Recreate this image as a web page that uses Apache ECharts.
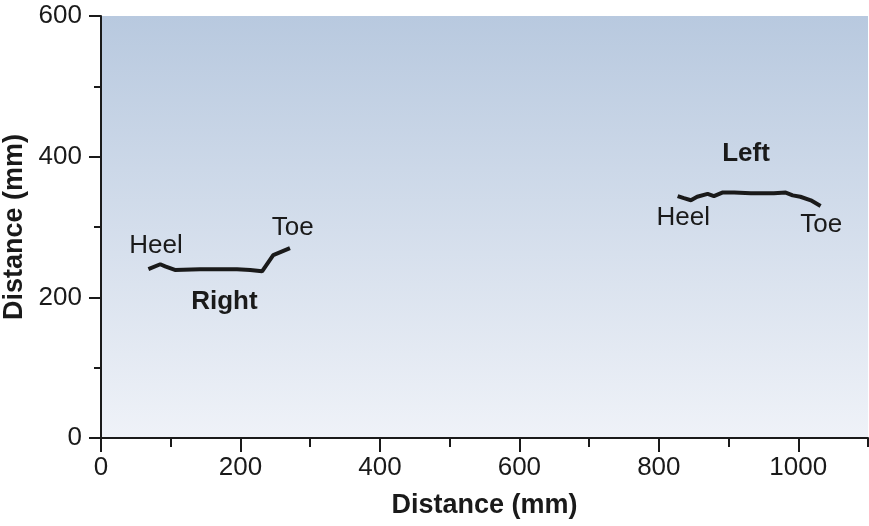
<!DOCTYPE html>
<html>
<head>
<meta charset="utf-8">
<script src="https://cdn.jsdelivr.net/npm/echarts@6/dist/echarts.min.js"></script>
<style>
html, body { margin: 0; padding: 0; background: #fff; }
#main { width: 869px; height: 526px; }
</style>
</head>
<body>
<div id="main"></div>
<script>
// right foot trace [x, y] in mm
var rightFoot = [
  [68, 240], [85, 247], [92, 244], [106, 239], [142, 240], [195, 240],
  [214, 239], [231, 237], [247, 260], [271, 270]
]
// left foot trace
var leftFoot = [
  [827, 344], [836, 341], [846, 338], [855, 343], [870, 347], [879, 344],
  [891, 349], [908, 349], [932, 348], [965, 348], [982, 349], [992, 345],
  [1003, 343], [1018, 338], [1032, 330]
]
// text notes [x, y, text, bold]
var notes = [
  [79, 273, 'Heel', false],
  [275, 299, 'Toe', false],
  [177, 194, 'Right', true],
  [925, 404, 'Left', true],
  [835, 313, 'Heel', false],
  [1033, 303, 'Toe', false]
]
var xMajor = [0, 200, 400, 600, 800, 1000]
var xMinor = [100, 300, 500, 700, 900, 1100]
var yMajor = [0, 200, 400, 600]
var yMinor = [100, 300, 500]

var font = "'Liberation Sans', Arial, sans-serif"
var ink = '#1a1a1a'

var chart = echarts.init(document.getElementById('main'))

function axisBase (vals, len, showLine, showLabel, pos) {
  return {
    type: 'value',
    position: pos,
    min: 0,
    axisLine: { show: showLine, onZero: false, lineStyle: { color: ink, width: 2 } },
    axisTick: { show: true, customValues: vals, length: len, lineStyle: { color: ink, width: 2 } },
    axisLabel: {
      show: showLabel, customValues: vals, color: ink, fontFamily: font, fontSize: 26,
      formatter: function (v) { return String(v) }
    },
    splitLine: { show: false }
  }
}

var x0 = axisBase(xMajor, 14, true, true, 'bottom')
x0.max = 1100
x0.axisLabel.margin = 17
x0.name = 'Distance (mm)'
x0.nameLocation = 'middle'
x0.nameGap = 54
x0.nameTextStyle = { color: ink, fontFamily: font, fontSize: 27, fontWeight: 'bold' }
var x1 = axisBase(xMinor, 9, false, false, 'bottom')
x1.max = 1100

var y0 = axisBase(yMajor, 12, true, true, 'left')
y0.max = 600
y0.axisLabel.margin = 19
y0.name = 'Distance (mm)'
y0.nameLocation = 'middle'
y0.nameGap = 73
y0.nameTextStyle = { color: ink, fontFamily: font, fontSize: 27, fontWeight: 'bold' }
var y1 = axisBase(yMinor, 7, false, false, 'left')
y1.max = 600

var lineStyle = { color: ink, width: 4 }

var option = {
  animation: false,
  grid: {
    left: 101, top: 16, right: 1, bottom: 88,
    outerBoundsMode: 'none',
    containLabel: false,
    show: true,
    borderWidth: 0,
    backgroundColor: new echarts.graphic.LinearGradient(0, 0, 0, 1, [
      { offset: 0, color: '#b8c9df' },
      { offset: 1, color: '#eff2f8' }
    ])
  },
  xAxis: [x0, x1],
  yAxis: [y0, y1],
  series: [
    {
      type: 'line', data: rightFoot, showSymbol: false, lineStyle: lineStyle
    },
    {
      type: 'line', data: leftFoot, showSymbol: false, lineStyle: lineStyle
    },
    {
      type: 'scatter',
      symbolSize: 0,
      itemStyle: { opacity: 1 },
      data: notes.map(function (n) {
        return {
          value: [n[0], n[1]],
          label: {
            show: true,
            position: 'inside',
            formatter: n[2],
            color: ink,
            opacity: 1,
            fontFamily: font,
            fontSize: 26,
            fontWeight: n[3] ? 'bold' : 'normal'
          }
        }
      })
    }
  ]
}
chart.setOption(option)
</script>
</body>
</html>
